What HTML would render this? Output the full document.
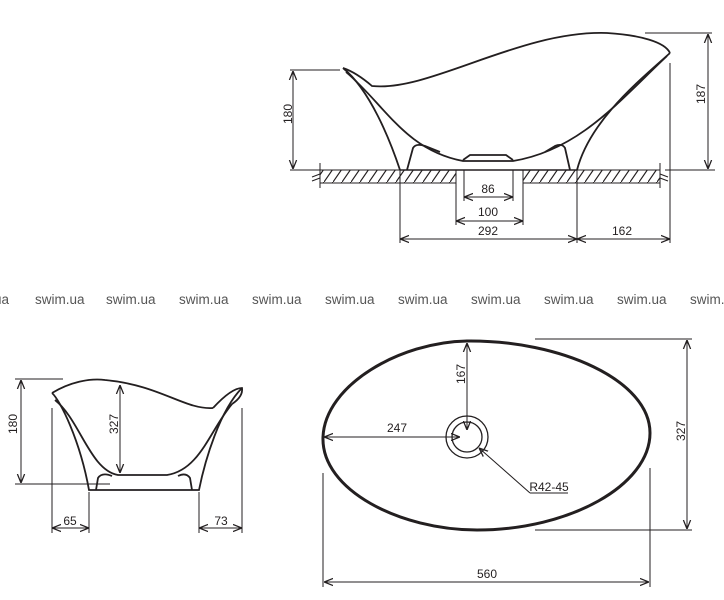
<!DOCTYPE html>
<html><head><meta charset="utf-8"><style>
html,body{margin:0;padding:0;background:#fff;}
svg{display:block;}
text{font-family:"Liberation Sans",sans-serif;fill:#231f20;}
</style></head><body>
<svg width="724" height="600" viewBox="0 0 724 600" xmlns="http://www.w3.org/2000/svg">
<defs>
<marker id="a" viewBox="0 0 10 10" refX="10" refY="5" markerWidth="9" markerHeight="9" orient="auto-start-reverse" markerUnits="userSpaceOnUse"><path d="M0,1 L10,5 L0,9" fill="none" stroke="#231f20" stroke-width="1.4"/></marker>
<pattern id="h" width="9" height="13" patternUnits="userSpaceOnUse"><path d="M0,13 L9,0" stroke="#231f20" stroke-width="1.2"/></pattern>
</defs>
<g stroke="#231f20" fill="none" stroke-width="1">
<!-- TOP SIDE VIEW -->
<rect x="320" y="170" width="136" height="13" fill="url(#h)"/>
<rect x="523" y="170" width="137" height="13" fill="url(#h)"/>
<path d="M312,177 L320,174 M312,181 L320,178 M660,174 L668,177 M660,178 L668,181"/>
<line x1="320" y1="163" x2="320" y2="188"/><line x1="660" y1="163" x2="660" y2="188"/>
<g stroke-width="1.8">
<path d="M343,68 C355,72 365,80 372,86 C430,92 520,30 607,33 C640,35 665,42 670,53"/>
<path d="M343,68 C370,90 390,140 400,170"/>
<path d="M670,53 C640,80 590,120 577,170"/>
<path d="M346,72 C385,105 405,150 463,161 L513,161 C580,150 620,100 667,56"/>
<path d="M407,170 L413,148 Q416,143 425,146 L440,152"/>
<path d="M570,170 L565,148 Q562,143 555,146 L545,152"/>
<path d="M463,160 L470,155 L506,155 L513,160"/>
</g>
<line x1="400" y1="170" x2="577" y2="170" stroke-width="1.5"/>
<line x1="290" y1="70" x2="340" y2="70"/><line x1="290" y1="170" x2="330" y2="170"/>
<line x1="293" y1="71" x2="293" y2="169" marker-start="url(#a)" marker-end="url(#a)"/>
<line x1="645" y1="33" x2="712" y2="33"/><line x1="665" y1="170" x2="715" y2="170"/>
<line x1="708" y1="34" x2="708" y2="169" marker-start="url(#a)" marker-end="url(#a)"/>
<line x1="400" y1="170" x2="400" y2="243"/><line x1="456" y1="183" x2="456" y2="225"/><line x1="523" y1="183" x2="523" y2="225"/>
<line x1="464" y1="170" x2="464" y2="201"/><line x1="513" y1="170" x2="513" y2="201"/>
<line x1="577" y1="170" x2="577" y2="243"/><line x1="670" y1="63" x2="670" y2="243"/>
<line x1="464" y1="197" x2="513" y2="197" marker-start="url(#a)" marker-end="url(#a)"/>
<line x1="456" y1="221" x2="523" y2="221" marker-start="url(#a)" marker-end="url(#a)"/>
<line x1="400" y1="239" x2="577" y2="239" marker-start="url(#a)" marker-end="url(#a)"/>
<line x1="577" y1="239" x2="670" y2="239" marker-start="url(#a)" marker-end="url(#a)"/>

<!-- LEFT SIDE VIEW -->
<g stroke-width="1.8">
<path d="M52,393 C70,382 90,378 105,380 C160,385 185,410 213,408"/>
<path d="M213,408 C225,395 235,388 242,388 C243,395 238,400 232,404"/>
<path d="M52,393 C60,400 80,440 89,490 L199,490 C205,460 220,410 242,388"/>
<path d="M55,400 C80,420 90,470 118,475 L167,475 C200,470 210,430 232,404"/>
<path d="M96,490 L98,478 Q102,472 112,476"/>
<path d="M192,490 L190,478 Q186,472 178,476"/>
</g>
<line x1="15" y1="379" x2="63" y2="379"/><line x1="15" y1="484" x2="110" y2="484"/>
<line x1="21" y1="380" x2="21" y2="483" marker-start="url(#a)" marker-end="url(#a)"/>
<line x1="120" y1="385" x2="120" y2="473" marker-start="url(#a)" marker-end="url(#a)"/>
<line x1="52" y1="408" x2="52" y2="533"/><line x1="89" y1="492" x2="89" y2="533"/>
<line x1="199" y1="492" x2="199" y2="533"/><line x1="242" y1="408" x2="242" y2="533"/>
<line x1="52" y1="528" x2="89" y2="528" marker-start="url(#a)" marker-end="url(#a)"/>
<line x1="199" y1="528" x2="242" y2="528" marker-start="url(#a)" marker-end="url(#a)"/>

<!-- PLAN VIEW -->
<path d="M323,437 C325,385 400,342 467,341 C560,340 650,380 650,433 C650,485 570,530 477,530 C400,530 321,490 323,437 Z" stroke-width="3"/>
<circle cx="467" cy="437" r="21" stroke-width="1.3"/>
<circle cx="467" cy="437" r="15" stroke-width="1.3"/>
<line x1="467" y1="343" x2="467" y2="430" marker-start="url(#a)" marker-end="url(#a)"/>
<line x1="324" y1="437" x2="460" y2="437" marker-start="url(#a)" marker-end="url(#a)"/>
<line x1="530" y1="493" x2="479" y2="448" marker-end="url(#a)"/>
<line x1="530" y1="493" x2="568" y2="493"/>
<line x1="535" y1="339" x2="692" y2="339"/><line x1="535" y1="530" x2="692" y2="530"/>
<line x1="687" y1="340" x2="687" y2="529" marker-start="url(#a)" marker-end="url(#a)"/>
<line x1="323" y1="473" x2="323" y2="587"/><line x1="650" y1="468" x2="650" y2="587"/>
<line x1="324" y1="582" x2="649" y2="582" marker-start="url(#a)" marker-end="url(#a)"/>
</g>
<g font-size="12">
<text x="293" y="125" transform="rotate(-90 287 120)" text-anchor="middle">180</text>
<text x="706" y="105" transform="rotate(-90 700 100)" text-anchor="middle">187</text>
<text x="488" y="193" text-anchor="middle">86</text>
<text x="488" y="216" text-anchor="middle">100</text>
<text x="488" y="235" text-anchor="middle">292</text>
<text x="622" y="235" text-anchor="middle">162</text>
<text x="18" y="435" transform="rotate(-90 12 430)" text-anchor="middle">180</text>
<text x="119" y="435" transform="rotate(-90 113 430)" text-anchor="middle">327</text>
<text x="70" y="525" text-anchor="middle">65</text>
<text x="221" y="525" text-anchor="middle">73</text>
<text x="466" y="385" transform="rotate(-90 460 380)" text-anchor="middle">167</text>
<text x="397" y="432" text-anchor="middle">247</text>
<text x="549" y="491" text-anchor="middle">R42-45</text>
<text x="686" y="442" transform="rotate(-90 680 437)" text-anchor="middle">327</text>
<text x="487" y="578" text-anchor="middle">560</text>
</g>
<g font-size="13.5" style="fill:#555">
<text x="-6" y="304" style="fill:#555">ua</text>
<text x="35" y="304" style="fill:#555">swim.ua</text>
<text x="106" y="304" style="fill:#555">swim.ua</text>
<text x="179" y="304" style="fill:#555">swim.ua</text>
<text x="252" y="304" style="fill:#555">swim.ua</text>
<text x="325" y="304" style="fill:#555">swim.ua</text>
<text x="398" y="304" style="fill:#555">swim.ua</text>
<text x="471" y="304" style="fill:#555">swim.ua</text>
<text x="544" y="304" style="fill:#555">swim.ua</text>
<text x="617" y="304" style="fill:#555">swim.ua</text>
<text x="690" y="304" style="fill:#555">swim.ua</text>
</g>
</svg>
</body></html>
